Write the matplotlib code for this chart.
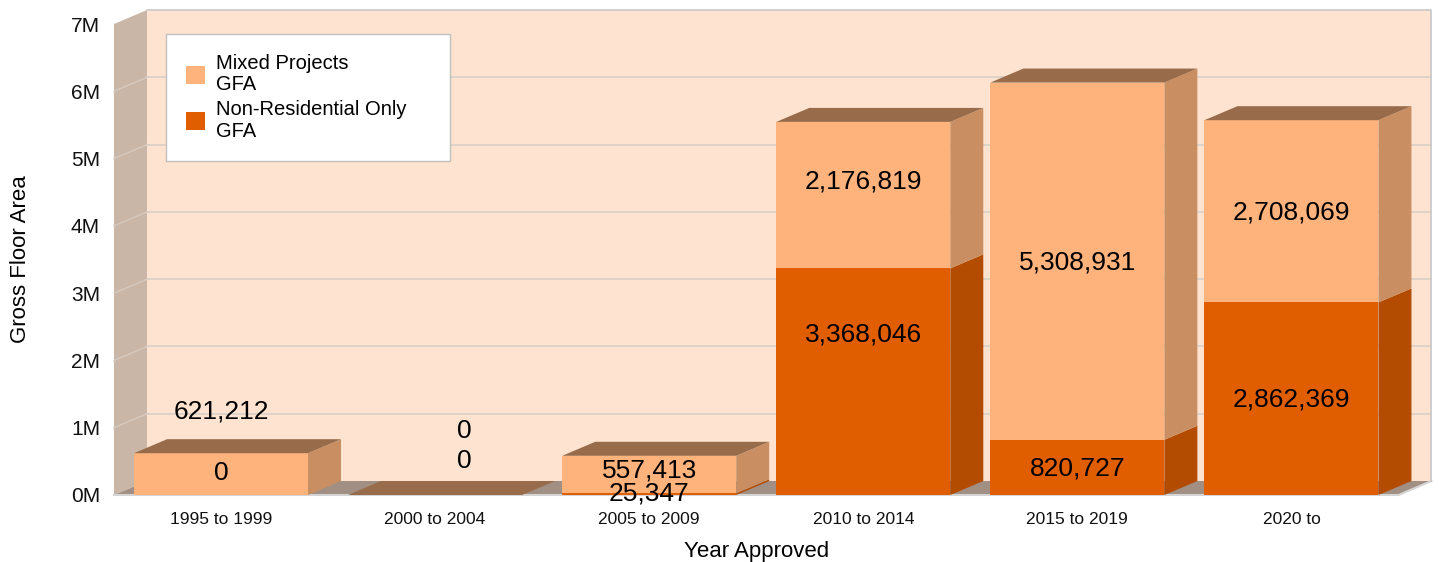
import matplotlib
matplotlib.use('Agg')
import matplotlib.pyplot as plt
from matplotlib.patches import Polygon, Patch

# ---------------- data ----------------
categories = ['1995 to 1999', '2000 to 2004', '2005 to 2009',
              '2010 to 2014', '2015 to 2019', '2020 to']
nonres_gfa = [0, 0, 25347, 3368046, 820727, 2862369]
mixed_gfa = [621212, 0, 557413, 2176819, 5308931, 2708069]
y_ticks = [0, 1e6, 2e6, 3e6, 4e6, 5e6, 6e6, 7e6]
y_tick_labels = ['0M', '1M', '2M', '3M', '4M', '5M', '6M', '7M']
series_names = ['Mixed Projects\nGFA', 'Non-Residential Only\nGFA']

# ---------------- layout / style ----------------
W, H = 1439, 562
plt.rcParams['font.family'] = ['Liberation Sans', 'DejaVu Sans']
fig = plt.figure(figsize=(W / 100, H / 100), dpi=100)
fig.patch.set_facecolor('white')
ax = fig.add_axes([114 / W, (H - 495) / H, 1284.5 / W, 471 / H])
ax.set_xlim(-0.5, 5.5)
ax.set_ylim(0, 7e6)
ax.set_facecolor('none')
for s in ax.spines.values():
    s.set_visible(False)

DX = 33 / 214.1            # depth offset in category units
DY = 14 / 67.3 * 1e6       # depth offset in value units
BAR_W = 174 / 214.1
YMAX = 7e6
X0, X1 = -0.5, 5.5

C_BACK = '#fee4d0'
C_LEFT = '#cab6a6'
C_FLOOR = '#a08f82'
C_GRID = '#d8cfc8'
C_MIX, C_MIX_SIDE = '#feb27c', '#c98f63'
C_NON, C_NON_SIDE = '#e05e00', '#b34b00'
C_TOP = '#986c4b'

# label placement (value units) and horizontal nudges (category units)
LABEL_Y_MIX = [1.248e6, 0.951e6, 0.371e6, 4.666e6, 3.462e6, 4.205e6]
LABEL_Y_NON = [0.327e6, 0.505e6, 0.015e6, 2.392e6, 0.401e6, 1.426e6]
LABEL_DX = [0, 0.135, 0, 0, 0, 0]

def poly(pts, color, z, **kw):
    p = Polygon(pts, closed=True, facecolor=color, edgecolor='none',
                zorder=z, clip_on=False, **kw)
    ax.add_patch(p)
    return p

# back wall
poly([(X0 + DX, DY), (X1 + DX, DY), (X1 + DX, YMAX + DY), (X0 + DX, YMAX + DY)], C_BACK, 0.5)
ax.plot([X0 + DX, X1 + DX, X1 + DX], [YMAX + DY, YMAX + DY, DY], color='#c8c8c8',
        lw=1.2, zorder=0.8, clip_on=False)
# left wall
poly([(X0, 0), (X0 + DX, DY), (X0 + DX, YMAX + DY), (X0, YMAX)], C_LEFT, 0.5)
# gridlines
for k in y_ticks[1:-1]:
    ax.plot([X0 + DX, X1 + DX], [k + DY, k + DY], color=C_GRID, lw=1.2,
            zorder=0.6, clip_on=False)
    ax.plot([X0, X0 + DX], [k, k + DY], color='#d6cac0', lw=1.0,
            zorder=0.6, clip_on=False)
# floor
poly([(X0, 0), (X1, 0), (X1 + DX, DY), (X0 + DX, DY)], C_FLOOR, 0.7)
ax.plot([X0, X1, X1 + DX], [0, 0, DY], color='#d4d4d4', lw=1.5, zorder=0.75,
        clip_on=False)

# bars
xs = list(range(len(categories)))
ax.bar(xs, nonres_gfa, width=BAR_W, color=C_NON, zorder=3)
ax.bar(xs, mixed_gfa, width=BAR_W, bottom=nonres_gfa, color=C_MIX, zorder=3)
for i, x in enumerate(xs):
    r = x + BAR_W / 2
    l = x - BAR_W / 2
    n = nonres_gfa[i]
    t = n + mixed_gfa[i]
    if n > 0:
        poly([(r, 0), (r + DX, DY), (r + DX, n + DY), (r, n)], C_NON_SIDE, 3)
    if mixed_gfa[i] > 0:
        poly([(r, n), (r + DX, n + DY), (r + DX, t + DY), (r, t)], C_MIX_SIDE, 3)
    poly([(l, t), (l + DX, t + DY), (r + DX, t + DY), (r, t)], C_TOP, 3)

# value labels
for i, x in enumerate(xs):
    ax.text(x + LABEL_DX[i], LABEL_Y_MIX[i], f'{mixed_gfa[i]:,}', ha='center',
            va='center', fontsize=19, color='black', zorder=5)
    ax.text(x + LABEL_DX[i], LABEL_Y_NON[i], f'{nonres_gfa[i]:,}', ha='center',
            va='center', fontsize=19, color='black', zorder=5)

# axes ticks
ax.set_xticks(xs, categories, fontsize=12.5)
ax.set_yticks(y_ticks, y_tick_labels, fontsize=15)
ax.tick_params(axis='x', length=0, pad=12, colors='#111111')
ax.tick_params(axis='y', length=0, pad=10, colors='#111111')
ax.set_xlabel('Year Approved', fontsize=16)
ax.xaxis.set_label_coords(0.5, -0.098)
ax.set_ylabel('Gross Floor Area', fontsize=16)
ax.yaxis.set_label_coords(-0.0646, 0.5)

# legend
handles = [Patch(facecolor=C_MIX, edgecolor='none'),
           Patch(facecolor=C_NON, edgecolor='none')]
leg = ax.legend(handles, series_names, loc='upper left',
                bbox_to_anchor=(52 / 1284.5, 0.5, 284 / 1284.5, (495 - 34) / 471 - 0.5),
                mode='expand', borderaxespad=0, fontsize=14.5, frameon=True,
                fancybox=False, framealpha=1, edgecolor='#c0c0c0',
                handlelength=0.95, handleheight=0.95, handletextpad=0.55,
                borderpad=1.0, labelspacing=0.3)
for t in leg.get_texts():
    t.set_linespacing(1.15)
leg.get_frame().set_linewidth(1.0)
leg.set_zorder(6)

fig.savefig('out.png', dpi=100)
